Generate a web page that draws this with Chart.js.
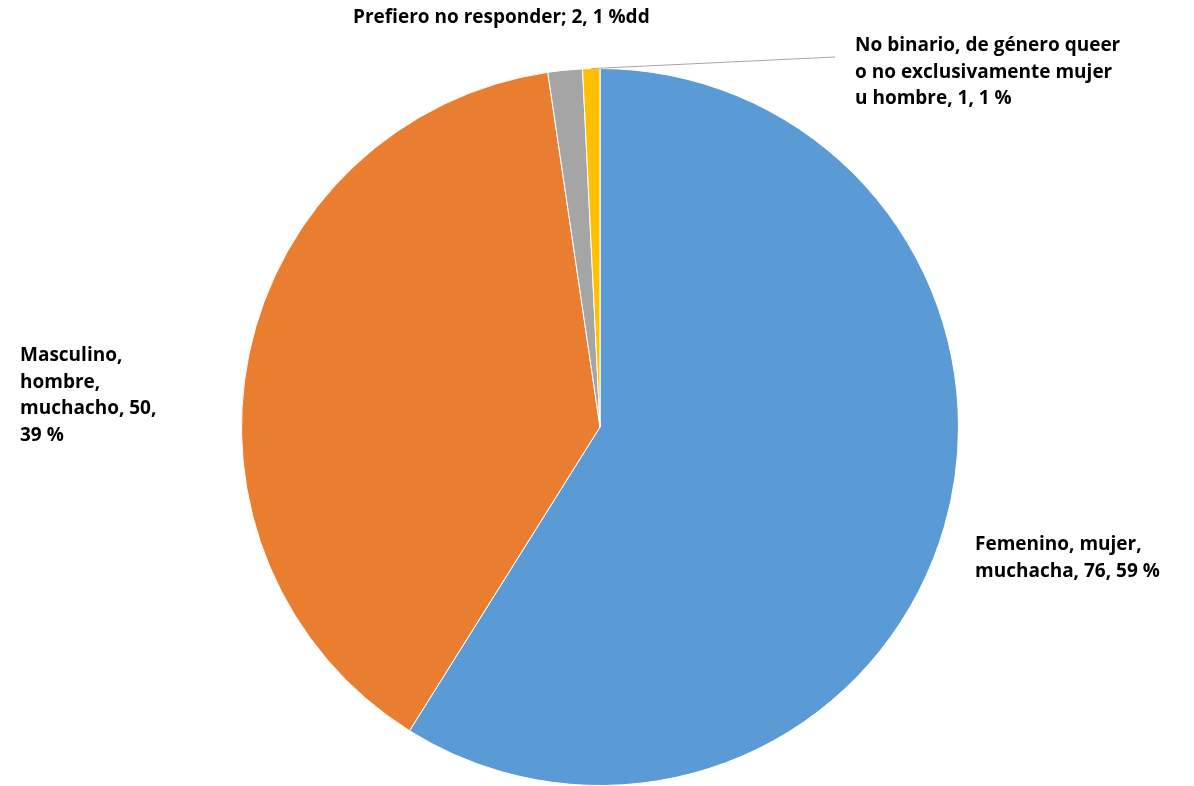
<!DOCTYPE html>
<html>
<head>
<meta charset="utf-8">
<script src="https://cdn.jsdelivr.net/npm/chart.js@4/dist/chart.umd.min.js"></script>
<style>
  html, body { margin: 0; padding: 0; background: #fff; }
  #wrap { width: 1194px; height: 786px; position: relative; }
</style>
</head>
<body>
<div id="wrap"><canvas id="pieChart"></canvas></div>
<script>
const categories = [
  'Femenino, mujer, muchacha',
  'Masculino, hombre, muchacho',
  'Prefiero no responder',
  'No binario, de género queer o no exclusivamente mujer u hombre'
]
const counts = [76, 50, 2, 1]
const labelLines = [
  ['Femenino, mujer,', 'muchacha, 76, 59 %'],
  ['Masculino,', 'hombre,', 'muchacho, 50,', '39 %'],
  ['Prefiero no responder; 2, 1 %dd'],
  ['No binario, de género queer', 'o no exclusivamente mujer', 'u hombre, 1, 1 %']
]
const colors = ['#5B9BD5', '#E97D30', '#A5A5A5', '#FFC000']

// where each label block starts (left x, first line center y)
const labelPos = [[975, 545], [20, 356], [353, 18], [855, 46]]

const labelPlugin = {
  id: 'sliceLabels',
  afterDraw(chart) {
    const ctx = chart.ctx
    const arcs = chart.getDatasetMeta(0).data
    ctx.save()
    // leader line for the tiny yellow slice
    const a = arcs[3]
    const mid = (a.startAngle + a.endAngle) / 2
    ctx.strokeStyle = '#A6A6A6'
    ctx.lineWidth = 1
    ctx.beginPath()
    ctx.moveTo(a.x + Math.cos(mid) * a.outerRadius, a.y + Math.sin(mid) * a.outerRadius)
    ctx.lineTo(labelPos[3][0] - 20, labelPos[3][1] + 11)
    ctx.stroke()

    ctx.fillStyle = '#000'
    ctx.font = 'bold 19px "Open Sans", sans-serif'
    ctx.textBaseline = 'middle'
    ctx.textAlign = 'left'
    labelLines.forEach((lines, i) => {
      lines.forEach((t, j) => {
        ctx.fillText(t, labelPos[i][0], labelPos[i][1] + j * 26.5)
      })
    })
    ctx.restore()
  }
}

new Chart(document.getElementById('pieChart'), {
  type: 'pie',
  data: {
    labels: categories,
    datasets: [{
      data: counts,
      backgroundColor: colors,
      borderColor: '#ffffff',
      borderWidth: 1
    }]
  },
  options: {
    responsive: true,
    maintainAspectRatio: false,
    animation: false,
    layout: { padding: { top: 68, bottom: 0, left: 6, right: 0 } },
    plugins: {
      legend: { display: false },
      tooltip: { enabled: false }
    }
  },
  plugins: [labelPlugin]
})
</script>
</body>
</html>
